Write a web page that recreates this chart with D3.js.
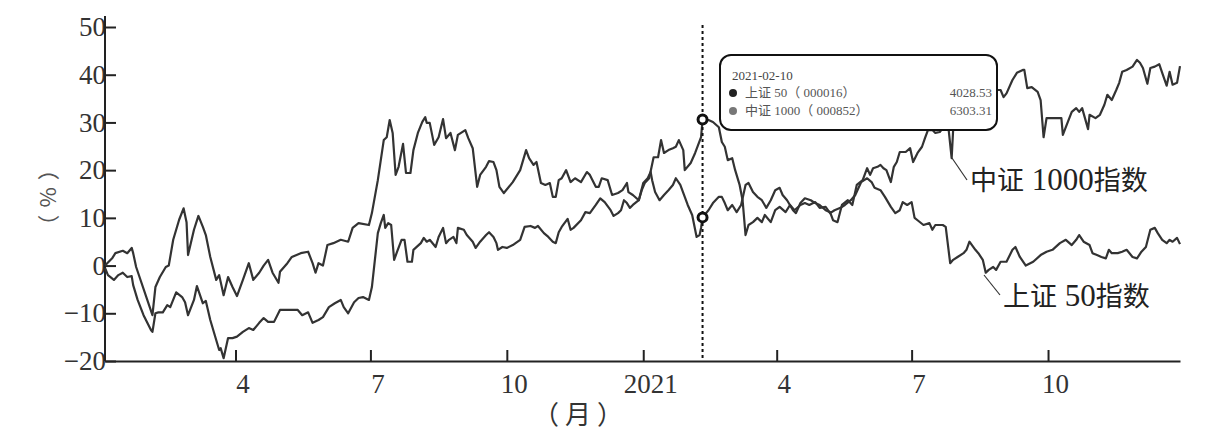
<!DOCTYPE html>
<html>
<head>
<meta charset="utf-8">
<script src="https://cdn.jsdelivr.net/npm/d3@7"></script>
<style>
  body { margin: 0; background: #fff; }
  svg { display: block; }
  .tick text { font-family: "Liberation Serif", "Noto Sans CJK SC", serif; fill: #333; }
</style>
</head>
<body>
<div id="chart"></div>
<script>
'use strict'

// 上证50 cumulative return (%)
const sz50Points = [
  ['2020-01-04', -0.5], ['2020-01-06', -2], ['2020-01-10', -3], ['2020-01-13', -2], ['2020-01-16', -1.5],
  ['2020-01-19', -2.4], ['2020-01-22', -2.2], ['2020-01-23', -4.1], ['2020-01-26', -7.2], ['2020-01-30', -10.4],
  ['2020-02-04', -13.5], ['2020-02-05', -13.9], ['2020-02-07', -10], ['2020-02-09', -9.8], ['2020-02-12', -9.8],
  ['2020-02-15', -8.3], ['2020-02-17', -8.7], ['2020-02-21', -5.6], ['2020-02-25', -6.6], ['2020-02-27', -7.7],
  ['2020-02-29', -10.4], ['2020-03-04', -7.2], ['2020-03-06', -4.3], ['2020-03-10', -7.9], ['2020-03-12', -7.4],
  ['2020-03-15', -11.4], ['2020-03-19', -15.6], ['2020-03-21', -17.7], ['2020-03-22', -17.3], ['2020-03-24', -19.4],
  ['2020-03-27', -15.2], ['2020-03-30', -15.2], ['2020-04-02', -14.9], ['2020-04-06', -13.9], ['2020-04-10', -13.1],
  ['2020-04-13', -13.5], ['2020-04-17', -12], ['2020-04-20', -11], ['2020-04-23', -11.8], ['2020-04-27', -11.8],
  ['2020-05-01', -9.3], ['2020-05-08', -9.3], ['2020-05-13', -9.3], ['2020-05-16', -10.4], ['2020-05-20', -9.8],
  ['2020-05-23', -12], ['2020-05-27', -11.4], ['2020-05-30', -10.8], ['2020-06-03', -8.7], ['2020-06-07', -7.9],
  ['2020-06-11', -7.2], ['2020-06-13', -8.7], ['2020-06-16', -10], ['2020-06-20', -7.7], ['2020-06-23', -6.8],
  ['2020-06-26', -6.6], ['2020-06-30', -7.2], ['2020-07-02', -4.5], ['2020-07-06', 6.8], ['2020-07-08', 8.9],
  ['2020-07-10', 10.6], ['2020-07-11', 7.9], ['2020-07-13', 8.9], ['2020-07-15', 8.5], ['2020-07-17', 1.2],
  ['2020-07-19', 2.9], ['2020-07-22', 5.4], ['2020-07-24', 5.4], ['2020-07-26', 0.8], ['2020-07-29', 0.8],
  ['2020-07-30', 3.3], ['2020-08-04', 4.7], ['2020-08-06', 5.8], ['2020-08-08', 5], ['2020-08-10', 5.4],
  ['2020-08-14', 3.9], ['2020-08-16', 6], ['2020-08-19', 7.9], ['2020-08-21', 4.7], ['2020-08-23', 5.4],
  ['2020-08-26', 6], ['2020-08-28', 4.7], ['2020-08-29', 7.9], ['2020-09-02', 7.5], ['2020-09-04', 6.4],
  ['2020-09-08', 5], ['2020-09-10', 3.7], ['2020-09-13', 5], ['2020-09-17', 6.4], ['2020-09-19', 7],
  ['2020-09-22', 6], ['2020-09-24', 4.7], ['2020-09-25', 3.3], ['2020-09-28', 3.9], ['2020-10-01', 3.7],
  ['2020-10-05', 4.3], ['2020-10-10', 5.4], ['2020-10-13', 8.1], ['2020-10-17', 8.3], ['2020-10-20', 7.9],
  ['2020-10-22', 8.3], ['2020-10-26', 6.8], ['2020-10-29', 6], ['2020-11-01', 5], ['2020-11-03', 4.7],
  ['2020-11-05', 7], ['2020-11-07', 8.1], ['2020-11-11', 9.8], ['2020-11-13', 7.5], ['2020-11-15', 7.9],
  ['2020-11-20', 9.5], ['2020-11-23', 11.2], ['2020-11-26', 11], ['2020-11-30', 12.7], ['2020-12-03', 14.1],
  ['2020-12-06', 13.3], ['2020-12-10', 11.6], ['2020-12-12', 10.4], ['2020-12-15', 11], ['2020-12-17', 11.6],
  ['2020-12-19', 13.7], ['2020-12-21', 13.1], ['2020-12-23', 12.1], ['2020-12-25', 12.7], ['2020-12-29', 13.7],
  ['2020-12-31', 15.8], ['2021-01-02', 17.3], ['2021-01-05', 18.3], ['2021-01-08', 22.7], ['2021-01-11', 22.7],
  ['2021-01-13', 26.3], ['2021-01-15', 23.6], ['2021-01-18', 24.2], ['2021-01-21', 24.6], ['2021-01-23', 24.9],
  ['2021-01-25', 26.3], ['2021-01-28', 24.2], ['2021-01-29', 20], ['2021-02-02', 21.5], ['2021-02-05', 23.6],
  ['2021-02-09', 26.9], ['2021-02-10', 30.6], ['2021-02-14', 30.5], ['2021-02-17', 30.1], ['2021-02-21', 29],
  ['2021-02-23', 25.9], ['2021-02-25', 24.9], ['2021-02-27', 22.1], ['2021-03-02', 22.5], ['2021-03-04', 20],
  ['2021-03-07', 16.9], ['2021-03-09', 13.7], ['2021-03-11', 6.4], ['2021-03-13', 8.5], ['2021-03-16', 9.1],
  ['2021-03-19', 10], ['2021-03-22', 9.1], ['2021-03-24', 10.6], ['2021-03-28', 9.1], ['2021-03-31', 11.6],
  ['2021-04-03', 12.3], ['2021-04-07', 11.2], ['2021-04-10', 12.7], ['2021-04-13', 11.6], ['2021-04-17', 12.7],
  ['2021-04-20', 13.1], ['2021-04-23', 12.7], ['2021-04-27', 13.3], ['2021-04-30', 12.1], ['2021-05-04', 12.3],
  ['2021-05-07', 11], ['2021-05-10', 11.6], ['2021-05-14', 12.1], ['2021-05-17', 12.7], ['2021-05-21', 13.7],
  ['2021-05-24', 14.8], ['2021-05-28', 17.5], ['2021-05-30', 17.9], ['2021-06-01', 18.3], ['2021-06-04', 17.5],
  ['2021-06-06', 16.3], ['2021-06-10', 15.8], ['2021-06-13', 14.4], ['2021-06-17', 12.3], ['2021-06-20', 11],
  ['2021-06-23', 11.6], ['2021-06-25', 13.3], ['2021-06-28', 12.7], ['2021-07-01', 13.3], ['2021-07-03', 10],
  ['2021-07-05', 9.5], ['2021-07-09', 8.5], ['2021-07-13', 8.9], ['2021-07-15', 7.5], ['2021-07-17', 8.5],
  ['2021-07-22', 8.5], ['2021-07-24', 8.1], ['2021-07-27', 0.5], ['2021-07-29', 1.2], ['2021-08-01', 1.8],
  ['2021-08-05', 2.6], ['2021-08-07', 3.3], ['2021-08-09', 5], ['2021-08-13', 3.3], ['2021-08-15', 2.6],
  ['2021-08-18', 1.2], ['2021-08-20', -1.5], ['2021-08-22', -0.9], ['2021-08-25', -0.3], ['2021-08-27', -0.9],
  ['2021-08-30', 0.8], ['2021-09-03', 0.8], ['2021-09-07', 3.3], ['2021-09-09', 3.9], ['2021-09-12', 1.8],
  ['2021-09-16', 0], ['2021-09-21', 0.8], ['2021-09-26', 2.2], ['2021-09-30', 2.9], ['2021-10-04', 3.3],
  ['2021-10-09', 4.7], ['2021-10-13', 5.4], ['2021-10-17', 4.3], ['2021-10-20', 5.4], ['2021-10-22', 6.4],
  ['2021-10-25', 5], ['2021-10-29', 4.3], ['2021-10-31', 2.6], ['2021-11-03', 2.2], ['2021-11-06', 1.8],
  ['2021-11-09', 1.5], ['2021-11-11', 3.3], ['2021-11-13', 2.6], ['2021-11-17', 2.6], ['2021-11-20', 2.9],
  ['2021-11-23', 3.3], ['2021-11-27', 1.8], ['2021-11-30', 1.5], ['2021-12-03', 2.9], ['2021-12-06', 3.9],
  ['2021-12-09', 7.5], ['2021-12-12', 7.9], ['2021-12-14', 6.8], ['2021-12-17', 5.4], ['2021-12-20', 4.7],
  ['2021-12-22', 5.4], ['2021-12-24', 5], ['2021-12-27', 5.8], ['2021-12-29', 4.5]
]

// 中证1000 cumulative return (%)
const zz1000Points = [
  ['2020-01-04', 0], ['2020-01-09', 1.6], ['2020-01-11', 2.6], ['2020-01-16', 3.1], ['2020-01-19', 2.6],
  ['2020-01-22', 3.7], ['2020-01-23', 2.6], ['2020-01-25', -0.3], ['2020-02-05', -10.4], ['2020-02-07', -4.5],
  ['2020-02-10', -2.4], ['2020-02-14', -0.3], ['2020-02-16', 0], ['2020-02-19', 5.4], ['2020-02-23', 9.6],
  ['2020-02-26', 12], ['2020-02-28', 9.1], ['2020-02-29', 2.2], ['2020-03-04', 7.5], ['2020-03-07', 10.4],
  ['2020-03-10', 8.1], ['2020-03-12', 6.4], ['2020-03-15', 1.8], ['2020-03-19', -3], ['2020-03-21', -2],
  ['2020-03-24', -6.2], ['2020-03-27', -2.4], ['2020-03-30', -4.5], ['2020-04-02', -6.4], ['2020-04-06', -3],
  ['2020-04-10', 0.5], ['2020-04-13', -3], ['2020-04-17', -1.5], ['2020-04-20', 0], ['2020-04-23', 1.2],
  ['2020-04-26', -1.5], ['2020-04-30', -3.6], ['2020-05-01', -1.3], ['2020-05-06', 0.5], ['2020-05-09', 1.8],
  ['2020-05-15', 2.6], ['2020-05-20', 2.9], ['2020-05-23', 0.5], ['2020-05-25', -1.5], ['2020-05-27', 0.5],
  ['2020-05-30', 0], ['2020-06-02', 4.3], ['2020-06-06', 4.7], ['2020-06-11', 5.4], ['2020-06-16', 5],
  ['2020-06-19', 7.9], ['2020-06-23', 8.9], ['2020-06-30', 8.5], ['2020-07-02', 11], ['2020-07-06', 17.9],
  ['2020-07-10', 26.3], ['2020-07-12', 26.9], ['2020-07-14', 30.5], ['2020-07-16', 27.8], ['2020-07-18', 19],
  ['2020-07-20', 20.7], ['2020-07-23', 25.5], ['2020-07-25', 19.4], ['2020-07-28', 19.4], ['2020-07-30', 24.2],
  ['2020-08-02', 27.8], ['2020-08-05', 30.1], ['2020-08-07', 31.1], ['2020-08-08', 29.9], ['2020-08-10', 29.9],
  ['2020-08-13', 25.3], ['2020-08-16', 26.9], ['2020-08-19', 30.7], ['2020-08-21', 26.7], ['2020-08-24', 27.8],
  ['2020-08-27', 24.2], ['2020-08-29', 27.4], ['2020-09-03', 28.4], ['2020-09-05', 26.7], ['2020-09-08', 24.6],
  ['2020-09-11', 16.5], ['2020-09-13', 19], ['2020-09-17', 20.7], ['2020-09-19', 21.9], ['2020-09-22', 21.7],
  ['2020-09-24', 20], ['2020-09-26', 16.5], ['2020-09-29', 15.2], ['2020-10-05', 17.5], ['2020-10-10', 20],
  ['2020-10-14', 24.2], ['2020-10-16', 22.5], ['2020-10-19', 21.1], ['2020-10-21', 21.7], ['2020-10-24', 17.3],
  ['2020-10-27', 16.9], ['2020-10-30', 17.3], ['2020-11-01', 14.4], ['2020-11-03', 14.4], ['2020-11-05', 17.9],
  ['2020-11-07', 18.3], ['2020-11-10', 20], ['2020-11-13', 17.5], ['2020-11-16', 18.3], ['2020-11-20', 17.5],
  ['2020-11-24', 19.6], ['2020-11-26', 19], ['2020-11-30', 16.5], ['2020-12-02', 16.5], ['2020-12-04', 18.3],
  ['2020-12-08', 17.9], ['2020-12-11', 14.8], ['2020-12-15', 15.2], ['2020-12-18', 15.8], ['2020-12-21', 17.3],
  ['2020-12-22', 15.4], ['2020-12-25', 14.8], ['2020-12-29', 13.7], ['2021-01-01', 17.3], ['2021-01-04', 18.3],
  ['2021-01-06', 19.6], ['2021-01-07', 17.9], ['2021-01-09', 15.4], ['2021-01-12', 13.7], ['2021-01-15', 14.8],
  ['2021-01-18', 15.8], ['2021-01-21', 16.9], ['2021-01-23', 18.3], ['2021-01-26', 16.9], ['2021-01-29', 14.4],
  ['2021-01-31', 12.7], ['2021-02-03', 10.6], ['2021-02-06', 6], ['2021-02-08', 6.4], ['2021-02-09', 7.9],
  ['2021-02-10', 10.1], ['2021-02-14', 11.6], ['2021-02-17', 13.1], ['2021-02-21', 14.4], ['2021-02-23', 14.4],
  ['2021-02-25', 13.1], ['2021-02-27', 11.6], ['2021-03-02', 12.7], ['2021-03-05', 11.2], ['2021-03-08', 12.7],
  ['2021-03-11', 16.9], ['2021-03-13', 17.3], ['2021-03-16', 15.4], ['2021-03-19', 14.4], ['2021-03-22', 13.7],
  ['2021-03-25', 12.1], ['2021-03-28', 13.7], ['2021-03-31', 15.8], ['2021-04-03', 16.3], ['2021-04-05', 14.8],
  ['2021-04-08', 13.7], ['2021-04-12', 11.6], ['2021-04-14', 11], ['2021-04-17', 13.1], ['2021-04-20', 14.1],
  ['2021-04-24', 13.7], ['2021-04-27', 13.1], ['2021-04-30', 12.7], ['2021-05-04', 11.6], ['2021-05-07', 11.2],
  ['2021-05-09', 9.5], ['2021-05-12', 9.1], ['2021-05-15', 12.7], ['2021-05-19', 13.7], ['2021-05-22', 12.7],
  ['2021-05-25', 16.9], ['2021-05-29', 17.9], ['2021-06-01', 20.4], ['2021-06-03', 19], ['2021-06-05', 20.4],
  ['2021-06-08', 20.7], ['2021-06-10', 21.1], ['2021-06-12', 20.4], ['2021-06-14', 20], ['2021-06-17', 17.5],
  ['2021-06-19', 20.7], ['2021-06-21', 21.7], ['2021-06-23', 23.8], ['2021-06-27', 23.8], ['2021-06-30', 24.6],
  ['2021-07-02', 21.7], ['2021-07-05', 23.6], ['2021-07-08', 24.9], ['2021-07-10', 26.7], ['2021-07-12', 28.4],
  ['2021-07-15', 28.4], ['2021-07-17', 27.8], ['2021-07-20', 28], ['2021-07-22', 28.8], ['2021-07-26', 28.4],
  ['2021-07-28', 22.5], ['2021-07-29', 28.4], ['2021-07-31', 28.8], ['2021-08-06', 30.5], ['2021-08-16', 33.6],
  ['2021-08-23', 35.7], ['2021-08-28', 36.8], ['2021-08-30', 36.8], ['2021-09-01', 35.3], ['2021-09-03', 36.1],
  ['2021-09-07', 38.9], ['2021-09-10', 40.4], ['2021-09-14', 41], ['2021-09-15', 41], ['2021-09-17', 37.2],
  ['2021-09-20', 37.4], ['2021-09-24', 36.4], ['2021-09-26', 34.7], ['2021-09-28', 26.9], ['2021-09-30', 30.9],
  ['2021-10-07', 30.9], ['2021-10-10', 30.9], ['2021-10-11', 27.4], ['2021-10-13', 29], ['2021-10-17', 32.2],
  ['2021-10-20', 33], ['2021-10-22', 32.2], ['2021-10-24', 33], ['2021-10-28', 28.6], ['2021-10-29', 31.6],
  ['2021-11-02', 30.9], ['2021-11-05', 31.6], ['2021-11-08', 33.7], ['2021-11-10', 35.8], ['2021-11-13', 34.7],
  ['2021-11-16', 36.8], ['2021-11-18', 38.3], ['2021-11-20', 40.6], ['2021-11-23', 41], ['2021-11-27', 41.7],
  ['2021-11-30', 43.1], ['2021-12-02', 42.5], ['2021-12-04', 41.4], ['2021-12-07', 38.1], ['2021-12-09', 41.4],
  ['2021-12-12', 41.7], ['2021-12-15', 42.2], ['2021-12-17', 40.4], ['2021-12-20', 37.7], ['2021-12-22', 40.6],
  ['2021-12-24', 37.9], ['2021-12-27', 38.3], ['2021-12-29', 41.8]
]

const xTickDates = ['2020-04-01', '2020-07-01', '2020-10-01', '2021-01-01', '2021-04-01', '2021-07-01', '2021-10-01']
const xTickLabels = ['4', '7', '10', '2021', '4', '7', '10']
const yTicks = [-20, -10, 0, 10, 20, 30, 40, 50]

const hoverDate = '2021-02-10'
const tipRows = [
  { name: '上证 50（ 000016）', value: '4028.53', color: '#222', series: 'sz50' },
  { name: '中证 1000（ 000852）', value: '6303.31', color: '#777', series: 'zz1000' }
]

const parseDate = d3.timeParse('%Y-%m-%d')
const toSeries = pts => pts.map(([d, v]) => ({ date: parseDate(d), value: v }))
const series = {
  sz50: toSeries(sz50Points),
  zz1000: toSeries(zz1000Points)
}

const width = 1210
const height = 446
const margin = { left: 105, right: 30, top: 27, bottom: 85 }

const svg = d3.select('#chart')
  .append('svg')
  .attr('width', width)
  .attr('height', height)

svg.append('rect')
  .attr('width', width)
  .attr('height', height)
  .attr('fill', '#fff')

const x = d3.scaleTime()
  .domain([parseDate('2020-01-04'), parseDate('2021-12-29')])
  .range([margin.left, width - margin.right])

const y = d3.scaleLinear()
  .domain([-20, 50])
  .range([height - margin.bottom, margin.top])

// axes
const xAxis = svg.append('g')
  .attr('transform', `translate(0,${y(-20)})`)
  .call(d3.axisBottom(x)
    .tickValues(xTickDates.map(parseDate))
    .tickFormat((d, i) => xTickLabels[i])
    .tickSizeInner(-11)
    .tickSizeOuter(0)
    .tickPadding(13))
xAxis.selectAll('path, line').attr('stroke', '#222').attr('stroke-width', 2)
xAxis.selectAll('text').attr('font-size', 27).attr('dx', 7)

const yAxis = svg.append('g')
  .attr('transform', `translate(${margin.left},0)`)
  .call(d3.axisLeft(y)
    .tickValues(yTicks)
    .tickFormat(d => d < 0 ? '\u2212' + Math.abs(d) : d)
    .tickSizeInner(-11)
    .tickSizeOuter(0)
    .tickPadding(-1))
yAxis.select('.domain').remove()
yAxis.selectAll('line').attr('stroke', '#222').attr('stroke-width', 2)
yAxis.selectAll('text').attr('font-size', 27)

// y axis line runs a bit above the top tick
svg.append('line')
  .attr('x1', margin.left).attr('x2', margin.left)
  .attr('y1', y(-20)).attr('y2', 16)
  .attr('stroke', '#222')
  .attr('stroke-width', 2)

// axis titles
svg.append('text')
  .attr('transform', `translate(56,${y(15)}) rotate(-90)`)
  .attr('text-anchor', 'middle')
  .attr('font-family', '"Noto Sans CJK SC", sans-serif')
  .attr('font-size', 22)
  .attr('letter-spacing', 7)
  .attr('fill', '#555')
  .text('（%）')

svg.append('text')
  .attr('x', 581)
  .attr('y', 424)
  .attr('text-anchor', 'middle')
  .attr('font-family', '"Noto Sans CJK SC", sans-serif')
  .attr('font-size', 26)
  .attr('letter-spacing', 6)
  .attr('fill', '#333')
  .text('（月）')

// lines
const line = d3.line()
  .x(d => x(d.date))
  .y(d => y(d.value))

svg.append('g')
  .attr('class', 'lines')
  .selectAll('path')
  .data([series.sz50, series.zz1000])
  .enter()
  .append('path')
  .attr('d', line)
  .attr('fill', 'none')
  .attr('stroke', '#333')
  .attr('stroke-width', 2.2)
  .attr('stroke-linejoin', 'round')

// line labels with leader lines
const labels = [
  { text: ['中证', ' 1000', '指数'], from: [952, 158], to: [967, 180], x: 970, y: 190 },
  { text: ['上证', ' 50', '指数'], from: [984, 275], to: [1000, 295], x: 1003, y: 306 }
]
const labelG = svg.append('g').attr('class', 'linelabels')
labelG.selectAll('line')
  .data(labels)
  .enter()
  .append('line')
  .attr('x1', d => d.from[0]).attr('y1', d => d.from[1])
  .attr('x2', d => d.to[0]).attr('y2', d => d.to[1])
  .attr('stroke', '#333')
  .attr('stroke-width', 1.2)
const labelText = labelG.selectAll('text')
  .data(labels)
  .enter()
  .append('text')
  .attr('x', d => d.x)
  .attr('y', d => d.y)
  .attr('fill', '#222')
labelText.append('tspan')
  .attr('font-family', '"Noto Sans CJK SC", sans-serif')
  .attr('font-size', 27)
  .text(d => d.text[0])
labelText.append('tspan')
  .attr('font-family', '"Liberation Serif", serif')
  .attr('font-size', 31)
  .text(d => d.text[1])
labelText.append('tspan')
  .attr('font-family', '"Noto Sans CJK SC", sans-serif')
  .attr('font-size', 27)
  .text(d => d.text[2])

// hover marker
const hx = x(parseDate(hoverDate))
svg.append('line')
  .attr('x1', hx).attr('x2', hx)
  .attr('y1', 25).attr('y2', y(-20))
  .attr('stroke', '#111')
  .attr('stroke-width', 2)
  .attr('stroke-dasharray', '3,3')

const valueAt = s => series[s].find(d => +d.date === +parseDate(hoverDate)).value
svg.append('g')
  .selectAll('circle')
  .data(tipRows)
  .enter()
  .append('circle')
  .attr('cx', hx)
  .attr('cy', d => y(valueAt(d.series)))
  .attr('r', 4.5)
  .attr('fill', '#fff')
  .attr('stroke', '#111')
  .attr('stroke-width', 3)

// tooltip box
const tip = svg.append('g').attr('transform', 'translate(720,55)')
tip.append('rect')
  .attr('width', 277)
  .attr('height', 75)
  .attr('rx', 11)
  .attr('fill', '#fff')
  .attr('stroke', '#111')
  .attr('stroke-width', 2)
tip.append('text')
  .attr('x', 12)
  .attr('y', 25)
  .attr('font-family', '"Liberation Serif", "Noto Sans CJK SC", serif')
  .attr('font-size', 13)
  .attr('fill', '#444')
  .text(hoverDate)
const row = tip.selectAll('g.row')
  .data(tipRows)
  .enter()
  .append('g')
  .attr('class', 'row')
  .attr('transform', (d, i) => `translate(0,${42 + i * 18})`)
row.append('circle')
  .attr('cx', 13)
  .attr('cy', -4)
  .attr('r', 4)
  .attr('fill', d => d.color)
row.append('text')
  .attr('x', 25)
  .attr('font-family', '"Liberation Serif", "Noto Sans CJK SC", serif')
  .attr('font-size', 13)
  .attr('fill', '#555')
  .text(d => d.name)
row.append('text')
  .attr('x', 272)
  .attr('text-anchor', 'end')
  .attr('font-family', '"Liberation Serif", serif')
  .attr('font-size', 13)
  .attr('fill', '#555')
  .text(d => d.value)
</script>
</body>
</html>
